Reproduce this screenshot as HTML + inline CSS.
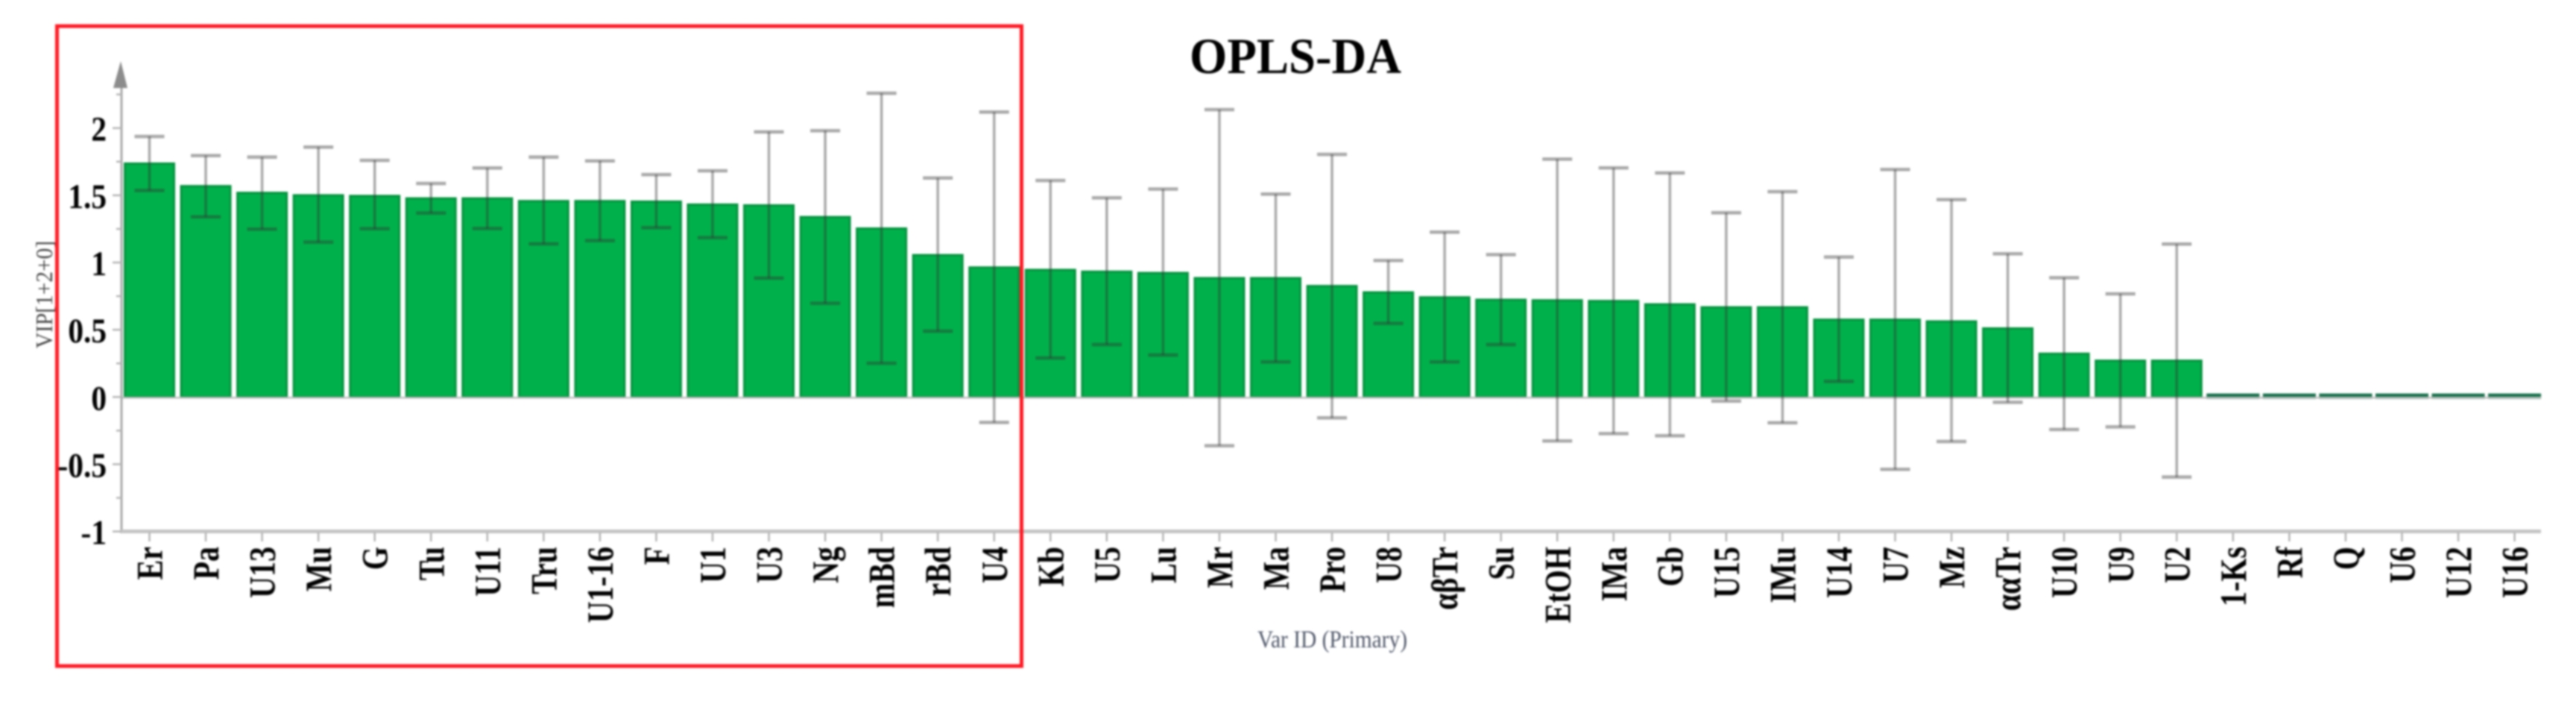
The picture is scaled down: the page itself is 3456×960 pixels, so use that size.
<!DOCTYPE html>
<html lang="en">
<head>
<meta charset="utf-8">
<title>OPLS-DA VIP chart</title>
<style>
html,body{margin:0;padding:0;background:#fff;width:3456px;height:960px;overflow:hidden}
svg{display:block;filter:blur(1.2px)}
text{font-family:"Liberation Serif",serif}
.num,.cat,.ttl{font-weight:bold;fill:#000}
</style>
</head>
<body>
<svg id="chart" xmlns="http://www.w3.org/2000/svg" width="3456" height="960" viewBox="0 0 3456 960">
  <rect width="3456" height="960" fill="#fff"/>
  <g id="bars"></g>
  <g id="axes"></g>
  <g id="errors"></g>
  <g id="xlabels"></g>
  <g id="ylabels"></g>
  <text class="ttl" x="1596" y="98" font-size="68" textLength="284" lengthAdjust="spacingAndGlyphs">OPLS-DA</text>
  <text x="0" y="0" font-size="33" fill="#50586a" transform="translate(1687,868)" textLength="201" lengthAdjust="spacingAndGlyphs">Var ID (Primary)</text>
  <text x="0" y="0" font-size="32" fill="#444" text-anchor="middle" transform="translate(70,395) rotate(-90) scale(.92,1)">VIP[1+2+0]</text>
  <rect x="76.5" y="35" width="1294" height="858" fill="none" stroke="#ff1a24" stroke-width="5"/>
</svg>
<script>
const categories = ["Er","Pa","U13","Mu","G","Tu","U11","Tru","U1-16","F","U1","U3","Ng","mBd","rBd","U4","Kb","U5","Lu","Mr","Ma","Pro","U8","αβTr","Su","EtOH","IMa","Gb","U15","IMu","U14","U7","Mz","ααTr","U10","U9","U2","1-Ks","Rf","Q","U6","U12","U16"];
const vipValues = [1.736,1.568,1.518,1.5,1.495,1.477,1.477,1.457,1.457,1.453,1.431,1.425,1.338,1.253,1.055,0.963,0.945,0.932,0.922,0.884,0.884,0.825,0.778,0.741,0.723,0.719,0.714,0.689,0.667,0.667,0.575,0.575,0.562,0.51,0.322,0.27,0.27,0.012,0.012,0.012,0.012,0.012,0.012];
const errorUpper = [1.937,1.795,1.784,1.858,1.76,1.588,1.703,1.784,1.756,1.654,1.682,1.971,1.98,2.259,1.629,2.119,1.61,1.481,1.546,2.137,1.509,1.804,1.015,1.226,1.059,1.769,1.704,1.666,1.37,1.527,1.041,1.692,1.468,1.065,0.887,0.767,1.137,0.012,0.012,0.012,0.012,0.012,0.012];
const errorLower = [1.536,1.34,1.248,1.152,1.252,1.368,1.253,1.139,1.163,1.259,1.185,0.884,0.697,0.251,0.49,-0.189,0.29,0.39,0.312,-0.362,0.261,-0.155,0.547,0.261,0.39,-0.327,-0.272,-0.288,-0.03,-0.192,0.116,-0.538,-0.331,-0.039,-0.242,-0.222,-0.595,0.012,0.012,0.012,0.012,0.012,0.012];
const yMajorTicks = [-1,-0.5,0,0.5,1,1.5,2];
const yMinorTicks = [-0.75,-0.25,0.25,0.75,1.25,1.75,2.25];
const yTickLabels = ["-1","-0.5","0","0.5","1","1.5","2"];

const NS = "http://www.w3.org/2000/svg";
const xScale = i => 200.5 + i * 75.55;
const yScale = v => 532.3 - v * 180.3;
const barWidth = 66;

function make(tag, parent) {
  const el = document.createElementNS(NS, tag);
  parent.appendChild(el);
  return el;
}
function line(parent, x1, y1, x2, y2, stroke, width) {
  const l = make("line", parent);
  l.setAttribute("x1", x1);
  l.setAttribute("y1", y1);
  l.setAttribute("x2", x2);
  l.setAttribute("y2", y2);
  l.setAttribute("stroke", stroke);
  l.setAttribute("stroke-width", width);
  return l;
}

const barsG = document.getElementById("bars");
const axesG = document.getElementById("axes");
const errG = document.getElementById("errors");
const xlG = document.getElementById("xlabels");
const ylG = document.getElementById("ylabels");

/* axes drawn first so that bars sit over the zero line */
const zeroLine = line(axesG, 163, yScale(0) + 1, 3409, yScale(0) + 1, "#bdbdbd", 2.5);



/* bars */
categories.forEach((c, i) => {
  const r = make("rect", barsG);
  const top = yScale(vipValues[i]);
  const tiny = vipValues[i] < 0.05;
  r.setAttribute("x", xScale(i) - barWidth / 2);
  r.setAttribute("y", top);
  r.setAttribute("width", barWidth);
  r.setAttribute("height", Math.max(yScale(0) - top, 1));
  r.setAttribute("fill", tiny ? "#14704a" : "#00b04a");
  r.setAttribute("stroke", tiny ? "#14704a" : "#05933f");
  r.setAttribute("stroke-width", tiny ? "5" : "3");
  
  
});

const yAxis = line(axesG, 163, 118, 163, 714, "#a8a8a8", 3);


const xAxis = line(axesG, 161, 712.5, 3409, 712.5, "#c4c4c4", 5);


const arrow = make("polygon", axesG);
arrow.setAttribute("points", "162,82 171,118 152,118");
arrow.setAttribute("fill", "#8c8c8c");



yMajorTicks.forEach(v => {
  const t = line(axesG, 151, yScale(v), 163, yScale(v), "#b4b4b4", 2.5);
  
  
});
yMinorTicks.forEach(v => {
  const t = line(axesG, 156, yScale(v), 163, yScale(v), "#b4b4b4", 2.5);
  
  
});
categories.forEach((c, i) => {
  const t = line(axesG, xScale(i), 714, xScale(i), 726, "#b4b4b4", 2.5);
  
  
});

/* error bars */
categories.forEach((c, i) => {
  if (errorUpper[i] === errorLower[i]) return;
  const g = make("g", errG);
  
  
  const x = xScale(i);
  const hi = yScale(errorUpper[i]);
  const lo = yScale(errorLower[i]);
  const col = "rgba(50,50,50,.42)";
  line(g, x, hi, x, lo, col, 3.5);
  line(g, x - 20, hi, x + 20, hi, col, 4.5);
  line(g, x - 20, lo, x + 20, lo, col, 4.5);
});

/* x labels */
categories.forEach((c, i) => {
  const t = make("text", xlG);
  t.setAttribute("class", "cat");
  t.setAttribute("font-size", "50");
  t.setAttribute("text-anchor", "end");
  t.setAttribute("transform", "translate(" + (xScale(i) + 17) + ",733) rotate(-90) scale(.8,1)");
  
  
  t.textContent = c;
});

/* y labels */
yMajorTicks.forEach((v, i) => {
  const t = make("text", ylG);
  t.setAttribute("class", "num");
  t.setAttribute("font-size", "47");
  t.setAttribute("text-anchor", "end");
  t.setAttribute("transform", "translate(143," + (yScale(v) + 17) + ") scale(.88,1)");
  
  
  t.textContent = yTickLabels[i];
});
</script>
</body>
</html>
